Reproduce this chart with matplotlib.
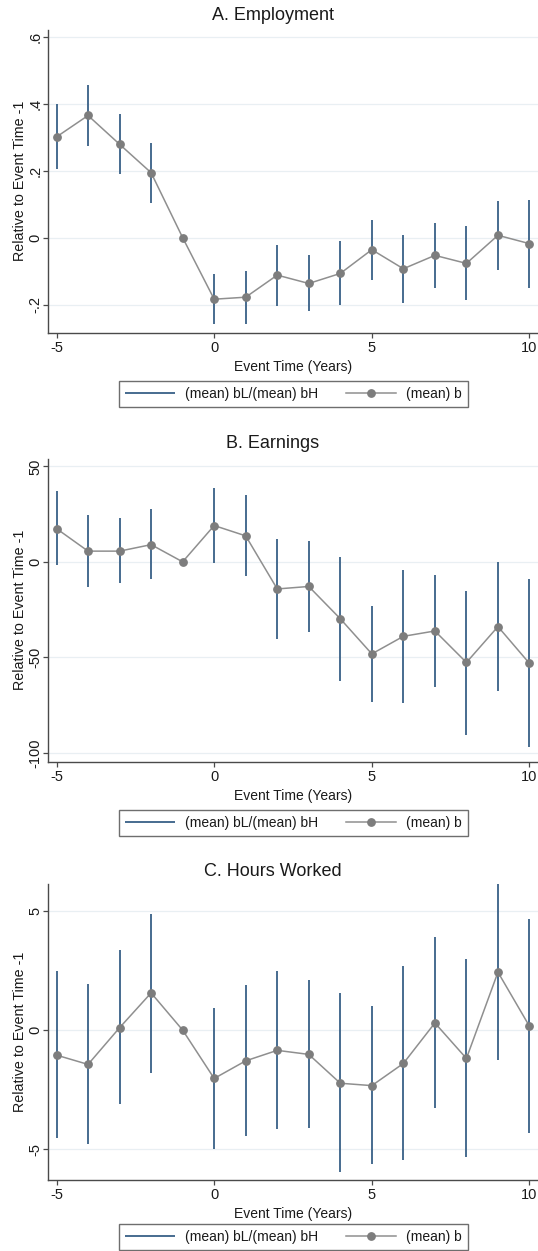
import numpy as np
import matplotlib
matplotlib.use("Agg")
import matplotlib.pyplot as plt

plt.rcParams['font.family'] = ['Liberation Sans', 'DejaVu Sans']

event_time = [-5, -4, -3, -2, -1, 0, 1, 2, 3, 4, 5, 6, 7, 8, 9, 10]

# point estimates and 95% bands, event time -1 is the omitted year
emp_b = [0.301, 0.365, 0.279, 0.194, 0.0, -0.184, -0.178, -0.112, -0.137, -0.107,
         -0.036, -0.093, -0.053, -0.077, 0.007, -0.018]
emp_lo = [0.205, 0.275, 0.189, 0.104, np.nan, -0.258, -0.258, -0.203, -0.220, -0.201,
          -0.127, -0.194, -0.150, -0.187, -0.098, -0.152]
emp_hi = [0.398, 0.456, 0.369, 0.283, np.nan, -0.109, -0.099, -0.022, -0.051, -0.010,
          0.054, 0.008, 0.043, 0.034, 0.109, 0.112]

earn_b = [17.4, 5.6, 5.6, 9.0, 0.0, 19.0, 13.6, -14.2, -12.9, -29.8,
          -48.2, -39.0, -36.2, -52.7, -33.9, -53.2]
earn_lo = [-1.9, -13.0, -11.1, -9.2, np.nan, -0.7, -7.6, -40.6, -36.9, -62.2,
           -73.4, -73.8, -65.4, -90.6, -67.7, -97.0]
earn_hi = [37.1, 24.5, 22.7, 27.5, np.nan, 38.6, 35.2, 12.1, 10.9, 2.5,
           -23.2, -4.3, -6.9, -15.1, 0.0, -9.2]

hours_b = [-1.05, -1.44, 0.10, 1.56, 0.0, -2.03, -1.29, -0.85, -1.02, -2.23,
           -2.33, -1.40, 0.30, -1.19, 2.43, 0.16]
hours_lo = [-4.52, -4.80, -3.12, -1.78, np.nan, -5.00, -4.45, -4.14, -4.10, -5.97,
            -5.62, -5.44, -3.28, -5.34, -1.27, -4.32]
hours_hi = [2.46, 1.95, 3.34, 4.87, np.nan, 0.94, 1.89, 2.46, 2.09, 1.55,
            0.99, 2.67, 3.91, 3.00, 6.12, 4.66]

titles = ["A. Employment", "B. Earnings", "C. Hours Worked"]
emp_ticks = [-0.2, 0, 0.2, 0.4, 0.6]
emp_ticklabels = ["-.2", "0", ".2", ".4", ".6"]
earn_ticks = [-100, -50, 0, 50]
hours_ticks = [-5, 0, 5]
x_ticks = [-5, 0, 5, 10]

W, H = 538, 1251
fig = plt.figure(figsize=(W / 100, H / 100), dpi=100)

BAR = '#466b8f'
DOT = '#7d7d7d'
LINE = '#8f8f8f'
GRID = '#e9eff3'
AXC = '#4a4a4a'

# pixel boxes (top, bottom) of each plot region and its title/legend rows
panels = [
    dict(top=29.5, bot=333, title_y=15, leg_y=394, ylim=(-0.285, 0.622),
         ticks=emp_ticks, labels=emp_ticklabels, b=emp_b, lo=emp_lo, hi=emp_hi),
    dict(top=458.5, bot=762, title_y=444, leg_y=823, ylim=(-104.8, 54.1),
         ticks=earn_ticks, labels=[str(t) for t in earn_ticks], b=earn_b, lo=earn_lo, hi=earn_hi),
    dict(top=884, bot=1180, title_y=871, leg_y=1237, ylim=(-6.29, 6.13),
         ticks=hours_ticks, labels=[str(t) for t in hours_ticks], b=hours_b, lo=hours_lo, hi=hours_hi),
]

left_px, right_px = 48, 538
x = np.array(event_time)

for p, title in zip(panels, titles):
    ax = fig.add_axes([left_px / W, 1 - p['bot'] / H, (right_px - left_px) / W, (p['bot'] - p['top']) / H])
    lo = np.array(p['lo'])
    hi = np.array(p['hi'])
    ok = ~np.isnan(lo)

    for t in p['ticks']:
        ax.axhline(t, color=GRID, lw=0.9, zorder=0)

    bars = ax.vlines(x[ok], lo[ok], hi[ok], color=BAR, lw=1.4, zorder=2,
                     label="(mean) bL/(mean) bH")
    pts, = ax.plot(x, p['b'], color=LINE, lw=1.1, marker='o', ms=5.3,
                   mfc=DOT, mec=DOT, zorder=3, label="(mean) b")

    ax.set_xlim(-5.27, 10.27)
    ax.set_ylim(*p['ylim'])
    ax.set_xticks(x_ticks)
    ax.set_xticklabels([str(t) for t in x_ticks])
    ax.set_yticks(p['ticks'])
    ax.set_yticklabels(p['labels'], rotation=90, va='center')

    for s in ['top', 'right']:
        ax.spines[s].set_visible(False)
    for s in ['left', 'bottom']:
        ax.spines[s].set_color(AXC)
        ax.spines[s].set_linewidth(1.0)
    ax.tick_params(axis='both', length=3.6, width=0.9, color=AXC, labelsize=10.5,
                   labelcolor='#1a1a1a')
    ax.tick_params(axis='x', pad=2)
    ax.tick_params(axis='y', pad=0.5)

    ax.set_xlabel("Event Time (Years)", fontsize=10, color='#1a1a1a', labelpad=4)
    ax.set_ylabel("Relative to Event Time -1", fontsize=10.3, color='#1a1a1a', va='center')
    ax.yaxis.set_label_coords((20.5 - left_px) / (right_px - left_px), 0.5)

    fig.text(273 / W, 1 - p['title_y'] / H, title, ha='center', va='center',
             fontsize=13, color='#1a1a1a')

    leg = fig.legend(handles=[bars, pts], loc='center',
                     bbox_to_anchor=(293.5 / W, 1 - p['leg_y'] / H), ncol=2,
                     fontsize=10, frameon=True, fancybox=False, numpoints=1,
                     handlelength=3.6, handletextpad=0.7, columnspacing=2.0,
                     borderpad=0.45)
    leg.get_frame().set_edgecolor(AXC)
    leg.get_frame().set_linewidth(1.0)
    for txt in leg.get_texts():
        txt.set_color('#1a1a1a')

fig.savefig("out.png", dpi=100)
